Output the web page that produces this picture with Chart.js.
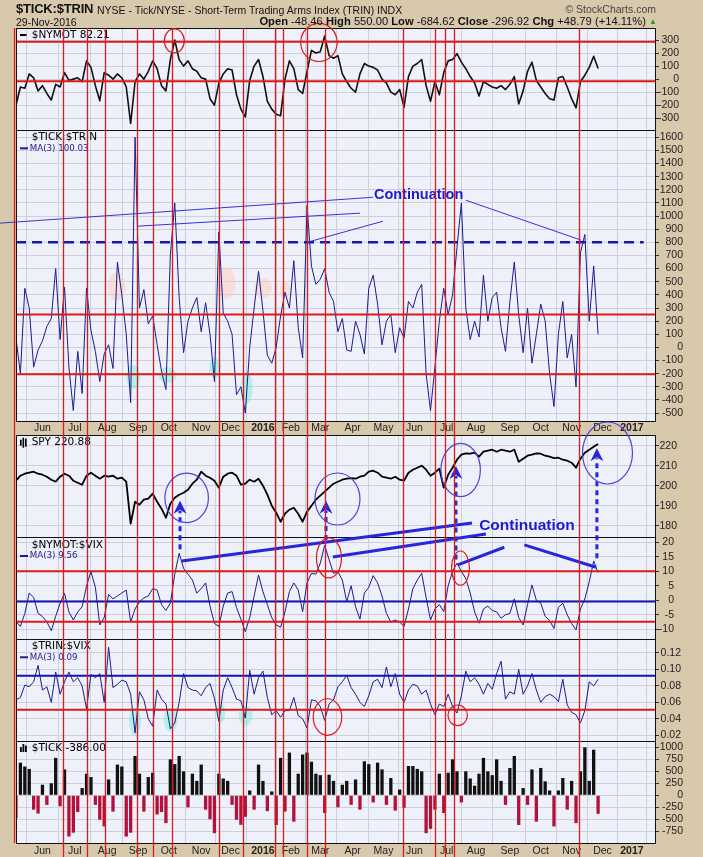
<!DOCTYPE html>
<html>
<head>
<meta charset="utf-8">
<title>$TICK:$TRIN</title>
<script src="https://cdn.jsdelivr.net/npm/chart.js@4.4.1/dist/chart.umd.min.js"></script>
<style>
  html, body { margin: 0; padding: 0; background: #d8c9ad; }
  #wrap { position: relative; width: 703px; height: 857px; overflow: hidden; }
  canvas { position: absolute; left: 0; top: 0; }
  .hd { position: absolute; font-family: 'Liberation Sans', Arial, sans-serif; color: #111;
        white-space: nowrap; line-height: 1; }
  .hd b { font-weight: bold; }
</style>
</head>
<body>
<div id="wrap">
  <canvas id="chart" width="703" height="857"></canvas>
  <div class="hd" style="left:16px; top:2px; font-size:13px; font-weight:bold; letter-spacing:-0.2px;">$TICK:$TRIN</div>
  <div class="hd" style="left:97px; top:5px; font-size:10.5px;">NYSE - Tick/NYSE - Short-Term Trading Arms Index (TRIN) INDX</div>
  <div class="hd" style="right:47px; top:4px; font-size:10.5px; color:#444;">&copy; StockCharts.com</div>
  <div class="hd" style="left:16px; top:17px; font-size:10.5px;">29-Nov-2016</div>
  <div class="hd" style="right:57px; top:16px; font-size:11.2px;"><b>Open</b> -48.46 <b>High</b> 550.00 <b>Low</b> -684.62 <b>Close</b> -296.92 <b>Chg</b> +48.79 (+14.11%)</div>
  <div class="hd" style="left:649px; top:18px; font-size:8px; color:#2e9a2e;">&#9650;</div>
</div>

<script>
/*
    $TICK:$TRIN panel set, StockCharts style.
    Six panels share one x axis (trading days, 0 = 1 Jun 2015),
    stacked as right-hand y scales.
*/

// ---- data: one sample every 3 trading days, first one 18 days before 1 Jun 2015 ----

const startDay = -18;
const stepDays = 3;

const monthTicks  = [0, 22, 44, 65, 86, 108, 128, 150, 169, 189, 211, 232, 253, 275, 295, 318, 339, 360, 381, 401];
const monthLabels = ['Jun', 'Jul', 'Aug', 'Sep', 'Oct', 'Nov', 'Dec', '2016', 'Feb', 'Mar', 'Apr', 'May',
                     'Jun', 'Jul', 'Aug', 'Sep', 'Oct', 'Nov', 'Dec', '2017'];

// $NYMOT
const nymot = [
  -200, -60, -70, 40, 10, -90, -50, -110, -160, -40,
  -60, 50, -10, 0, 10, -20, 140, 90, -50, -165,
  50, 30, 0, 40, 10, -60, -340, -20, 40, 0,
  60, 140, 80, -50, -90, 150, 300, 150, 100, 140,
  80, 60, 10, 0, -150, -200, -30, 40, 80, 70,
  -120, -230, -290, -10, 100, 150, 20, -170, -230, -270,
  -280, 0, 140, 80, -80, -110, 60, 220, 200, 210,
  330, 180, 160, 180, 40, -20, -70, -100, 40, 120,
  100, 90, 70, 0, -30, -100, -120, -80, -215, 20,
  100, 120, 150, -50, -170, -20, -120, 50, 140, 150,
  195, 130, 80, 20, -30, -130, -20, -40, -60, -70,
  -50, -80, -40, 20, -190, -90, 60, 130, -10, -60,
  -110, -150, -160, 10, 20, -60, -150, -220, -20, 30,
  90, 175, 82.21];

// $TICK:$TRIN MA(3)
const tickTrin = [
  70, -200, 450, 300, -150, -20, 50, 160, 220, 600,
  60, 460, -150, -480, -30, -350, 450, 130, -30, -260,
  -50, 20, -160, 650, 400, 100, -420, 1600, 300, 440,
  180, 240, 20, -180, -320, 700, 1100, 380, -40, 200,
  300, 380, 120, 340, 100, -260, 880, 260, 200, 100,
  -360, -300, -500, 0, 300, 580, 280, -60, -120, 0,
  240, 420, 300, 660, 150, -80, 1080, 620, 480, 520,
  600, 420, 350, 120, 220, -20, -30, 200, 100, -50,
  450, 550, 330, 20, 200, 250, -40, 150, 70, 350,
  300, 420, 480, -200, -480, -150, 200, 450, 250, 400,
  760, 1100, 300, 60, 200, 80, 550, 200, 380, 420,
  150, -30, 350, 650, 250, -40, 300, -120, 100, 330,
  200, -200, -450, 100, 350, -80, 100, -300, 720, 860,
  200, 620, 100.03];

// SPY
const spy = [
  202.5, 205, 206, 206.5, 207, 206, 205.5, 204.5, 203, 202,
  204.5, 206, 205, 202.5, 201.5, 200.5, 205, 206.5, 205, 203.5,
  205, 204.5, 205, 203.5, 204, 202, 181, 192, 190.5, 193,
  193.5, 196, 192, 188.5, 184, 191, 194, 195.5, 196.5, 198,
  201, 203, 207, 205, 204, 202.5, 199, 204.5, 206, 206.5,
  205, 200.5, 201, 203, 202, 203.5, 200, 195.5, 190, 186.5,
  182, 186, 188, 189, 186, 182, 187, 190, 193, 195,
  197, 199, 201, 202, 203, 203.5, 203.8, 203.5, 204.5, 205,
  207, 207.5, 206.5, 204.5, 204, 203.5, 204.5, 203, 202.5, 206.5,
  208, 209, 210, 208, 205, 206.5, 208.5, 199, 205.5, 209,
  213, 215.5, 216.2, 216, 216.5, 214.5, 217, 217.5, 218, 217,
  218, 217.5, 217, 218, 212, 213.5, 215, 215.5, 216.2, 216,
  215, 214.5, 213.8, 214, 213, 212.5, 211.5, 209, 213.5, 216.5,
  218, 219.5, 220.88];

// $NYMOT:$VIX MA(3)
const nymotVix = [
  -7.4, -9, -4.5, 2.5, 1, -4.5, -5.6, -7.4, -10.5, -5.5,
  -1, 2.4, -4, -6.8, -4, -2.2, 5, 9.9, 4.5, -8.5,
  -6, 2, 0.5, 1.5, 2.5, 3.5, -7.5, -3, -0.5, 0.8,
  1.5, 4, 3.5, -1.5, -3.5, -1, 9, 16.2, 11, 9,
  7, 2.5, 4, 6, -2, -8, -9, -2, 2.5, 3,
  -2.5, -6.5, -10.8, -6, 1.5, 8.7, 3, -1.5, -6, -8.5,
  -9.3, -4, 3, 6, 3.5, -3.9, 6, 9.3, 9, 12.8,
  19, 14, 9.3, 9.8, 7, -0.5, 5, -2.2, -6.5, 2.5,
  4.5, 8.5, 6, 1.5, -4.5, -7.5, -6.8, -7.5, -9, -3,
  4, 7, 9.3, 1, -6.8, -3, -1.5, -3.9, 5, 10,
  12.8, 10, 7.5, 2.5, -4, -7.9, -3, -2, -3.5, -4,
  -6.2, -5, -4.5, 0.5, -6, -8.5, -1.5, 5.3, 0, -1,
  -5.5, -7, -9.7, -2.5, -1, -5, -8, -10.2, -3, 0.5,
  6.4, 13.5, 9.56];

// $TRIN:$VIX MA(3)
const trinVix = [
  0.063, 0.066, 0.081, 0.079, 0.085, 0.105, 0.075, 0.079, 0.060, 0.097,
  0.070, 0.085, 0.097, 0.085, 0.090, 0.080, 0.052, 0.094, 0.090, 0.095,
  0.060, 0.127, 0.078, 0.082, 0.087, 0.085, 0.070, 0.023, 0.073, 0.063,
  0.040, 0.031, 0.075, 0.064, 0.058, 0.028, 0.035, 0.060, 0.095, 0.078,
  0.075, 0.074, 0.068, 0.078, 0.083, 0.065, 0.037, 0.075, 0.090, 0.078,
  0.064, 0.062, 0.041, 0.099, 0.070, 0.090, 0.098, 0.066, 0.045, 0.050,
  0.042, 0.050, 0.050, 0.066, 0.044, 0.040, 0.029, 0.063, 0.062, 0.055,
  0.038, 0.058, 0.063, 0.079, 0.085, 0.093, 0.078, 0.070, 0.060, 0.055,
  0.068, 0.085, 0.088, 0.078, 0.103, 0.079, 0.095, 0.070, 0.060, 0.075,
  0.082, 0.080, 0.070, 0.075, 0.058, 0.045, 0.058, 0.055, 0.070, 0.055,
  0.047, 0.068, 0.098, 0.085, 0.090, 0.082, 0.070, 0.083, 0.076, 0.095,
  0.110, 0.064, 0.073, 0.070, 0.100, 0.070, 0.080, 0.095, 0.075, 0.060,
  0.067, 0.070, 0.067, 0.061, 0.088, 0.057, 0.048, 0.045, 0.035, 0.050,
  0.085, 0.080, 0.088];

// $TICK
const tick = [
  -480, 680, 600, 550, -300, -380, 220, -200, 250, 780,
  -230, 540, -860, -780, -350, 150, 450, 380, -200, -510,
  -650, 330, -340, 640, 600, -860, -780, 820, 450, -340,
  380, 470, -400, -350, -580, 750, 650, 820, 500, -250,
  450, 300, 640, -300, -500, -790, 450, 350, 300, -200,
  -510, -616, -450, 100, -300, 640, 300, -330, 80, -620,
  780, -340, 890, -550, 450, 850, 890, 700, 450, 420,
  -370, 430, 300, -250, 220, 300, -200, 330, -300, 710,
  650, -150, 680, 540, -200, 360, -320, 120, -260, 610,
  610, 550, 500, -790, -700, -300, 450, -370, 470, 750,
  500, -150, 500, 350, 200, 450, 780, 500, 420, 750,
  300, -200, 570, 820, -620, 150, -200, 540, -550, 570,
  290, 100, -650, 100, 360, -300, 300, -580, 500, 1000,
  300, 950, -386];

// red vertical marker lines (trading day)
const markerDays = [-19.7, 13.8, 30.1, 42.7, 64.3, 75.4, 87.9, 120.1, 136.6,
                    158.4, 163.4, 180, 192.4, 245.5, 267.2, 274, 280.2, 364.8];


// ---- look ----

const FONT = "'Liberation Sans', Arial, sans-serif";
const LFONT = "'DejaVu Sans', sans-serif";
const TAN = '#d8c9ad';
const PLOT = '#eef0fa';
const GRID = '#cdd0dc';
const RED = '#dd1a1a';
const NAVY = '#1c1c8c';
const BLUE = '#2626dc';

const panelIds = ['nymot', 'tt', 'spy', 'nv', 'tv', 'tk'];

// right edge of each panel's (right aligned) value labels
const labelRight = { nymot: 679, tt: 683, spy: 677, nv: 674, tv: 681, tk: 683 };

function pts(arr) {
    return arr.map((v, i) => ({x: startDay + i * stepDays, y: v}));
}

function fitY(scale) {
    scale.width = 47;
    scale.paddingTop = 0;
    scale.paddingBottom = 0;
}

function panelScale(weight, min, max, step, fmt) {
    return {
        type: 'linear', position: 'right', stack: 'panels', stackWeight: weight,
        min: min, max: max, offset: false,
        grid: { color: GRID, drawTicks: true, tickLength: 3, tickColor: '#333',},
        border: { display: false,},
        ticks: {
            stepSize: step, includeBounds: false, autoSkip: false,
            crossAlign: 'far', padding: 2, color: '#222',
            font: { family: FONT, size: 10.5,},
            callback: fmt || (v => String(Math.round(v))),},
        afterFit: fitY,
    };
}


// ---- drawing helpers ----

function ring(ctx, cx, cy, rx, ry, color, fill) {
    ctx.beginPath();
    ctx.ellipse(cx, cy, rx, ry, 0, 0, Math.PI * 2);
    if (fill) { ctx.fillStyle = fill; ctx.fill(); }
    else { ctx.strokeStyle = color; ctx.lineWidth = 1.2; ctx.stroke(); }
}

function segment(ctx, x0, y0, x1, y1, color, width, dash) {
    ctx.save();
    ctx.strokeStyle = color;
    ctx.lineWidth = width;
    ctx.setLineDash(dash || []);
    ctx.beginPath();
    ctx.moveTo(x0, y0);
    ctx.lineTo(x1, y1);
    ctx.stroke();
    ctx.restore();
}

function upArrow(ctx, x, yFrom, yTip) {
    const head = 13;
    segment(ctx, x, yFrom, x, yTip + head - 3, BLUE, 3, [5, 4]);
    ctx.fillStyle = BLUE;
    ctx.beginPath();
    ctx.moveTo(x, yTip);
    ctx.lineTo(x - 6.5, yTip + head);
    ctx.lineTo(x, yTip + head - 4);
    ctx.lineTo(x + 6.5, yTip + head);
    ctx.closePath();
    ctx.fill();
}


// ---- annotations, in trading days and axis values ----

// [axis, value, colour, width, dash, lastDay]
const levels = [
    ['nymot', 287, RED, 2], ['nymot', -16, RED, 2],
    ['tt', 250, RED, 2], ['tt', -205, RED, 2], ['tt', 800, '#1a1aa8', 2.5, [10, 6], 409],
    ['nv', 10, RED, 2], ['nv', -0.4, '#1414b4', 2], ['nv', -7.4, RED, 2],
    ['tv', 0.0925, '#1414b4', 2], ['tv', 0.051, RED, 2],
];

// thin guide lines on $TICK:$TRIN [day0, v0, day1, v1]
const ttGuides = [[-28.9, 946, 224.9, 1143], [65, 923, 216, 1022],
                  [180.6, 802, 231.7, 961], [288.1, 1120, 366.4, 817]];

// thick guide lines low down [day0, axis0, v0, day1, axis1, v1]
const vixGuides = [[94.9, 'nv', 13.55, 292.2, 'spy', 181.35], [197.6, 'nv', 14.9, 301.7, 'spy', 175.85],
                   [282.5, 'nv', 12.2, 314.2, 'nv', 18.3], [327.8, 'nv', 19.1, 376.6, 'nv', 11.4]];

// dashed arrows [day, fromAxis, fromV, tipAxis, tipV]
const arrows = [[93.6, 'nv', 17.6, 'spy', 192.5], [192.9, 'nv', 20.8, 'spy', 192.5],
                [281.3, 'nv', 14.1, 'spy', 209.85], [377.2, 'nv', 14.5, 'spy', 218.7]];

// rings [axis, day, v, rDays, rV, colour]
const rings = [
    ['nymot', 89.7, 294, 6.8, 92, RED], ['nymot', 188.1, 281, 12.4, 146, RED],
    ['spy', 98.1, 193.9, 14.8, 12.35, '#4646d8'], ['spy', 200.7, 193.35, 15.3, 13, '#4646d8'],
    ['spy', 284.5, 207.85, 13.4, 13.35, '#4646d8'], ['spy', 384.4, 216.35, 17, 15.5, '#4646d8'],
    ['nv', 194.9, 14.6, 8.5, 6.9, RED], ['nv', 284.4, 11.1, 6.1, 5.9, RED],
    ['tv', 193.9, 0.0422, 9.7, 0.0222, RED], ['tv', 282.5, 0.0443, 6.6, 0.0125, RED],
];

// soft highlight spots [axis, day, v, rDays, rV, fill]
const CYAN = 'rgba(110, 235, 215, 0.45)';
const PINK = 'rgba(255, 200, 180, 0.45)';
const spots = [
    ['tt', 61.8, -224, 4.8, 91, CYAN], ['tt', 85.2, -212, 6.1, 61, CYAN],
    ['tt', 117.4, -156, 4.1, 76, CYAN], ['tt', 138.9, -307, 4.1, 121, CYAN],
    ['tt', 50.5, 463, 6.1, 106, PINK], ['tt', 125.3, 489, 6.1, 121, PINK],
    ['tt', 150.2, 451, 6.1, 76, PINK], ['tt', 165, 438, 3.4, 61, PINK],
    ['tv', 63, 0.037, 4.1, 0.017, CYAN], ['tv', 87.2, 0.039, 4.8, 0.0146, CYAN],
    ['tv', 121.5, 0.047, 2.7, 0.012, CYAN], ['tv', 138.3, 0.044, 4.8, 0.012, CYAN],
];

// [axis, day, v, size]
const notes = [['tt', 255.9, 1158, 14.5], ['spy', 329.6, 179.85, 15.5]];

// panel legends [axis, offset from panel top, text, colour, icon]
const legends = [
    ['nymot', 7, '$NYMOT 82.21', '#000', 'line'],
    ['tt', 7.7, '$TICK:$TRIN', '#000', null],
    ['tt', 18.3, 'MA(3) 100.03', NAVY, 'ma'],
    ['spy', 7.7, 'SPY 220.88', '#000', 'candle'],
    ['nv', 8, '$NYMOT:$VIX', '#000', null],
    ['nv', 19, 'MA(3) 9.56', NAVY, 'ma'],
    ['tv', 7.3, '$TRIN:$VIX', '#000', null],
    ['tv', 18.3, 'MA(3) 0.09', NAVY, 'ma'],
    ['tk', 7, '$TICK -386.00', '#000', 'bars'],
];


const panelPlugin = {
    id: 'panels',

    afterLayout(chart) {
        // 'far' labels end at the scale's right edge; pull it in per panel
        Object.keys(labelRight).forEach(id => { chart.scales[id].right = labelRight[id]; });
    },

    beforeDraw(chart) {
        const ctx = chart.ctx, a = chart.chartArea;
        ctx.save();
        ctx.fillStyle = TAN;
        ctx.fillRect(0, 0, chart.width, chart.height);
        ctx.fillStyle = PLOT;
        panelIds.forEach(id => {
            const s = chart.scales[id];
            ctx.fillRect(a.left, s.top, a.right - a.left, s.bottom - s.top);
        });
        ctx.restore();
    },

    beforeDatasetsDraw(chart) {
        const ctx = chart.ctx, a = chart.chartArea;
        const g = chart.scales.gap, x = chart.scales.x;
        const X = d => x.getPixelForValue(d);
        const Y = (id, v) => chart.scales[id].getPixelForValue(v);

        ctx.save();
        // month row between the two upper panels
        ctx.fillStyle = TAN;
        ctx.fillRect(a.left, g.top, a.right - a.left, g.bottom - g.top);
        ctx.fillStyle = '#222';
        ctx.textAlign = 'center';
        ctx.textBaseline = 'middle';
        monthTicks.forEach((d, i) => {
            const bold = /^\d{4}$/.test(monthLabels[i]);
            ctx.font = (bold ? 'bold ' : '') + '10.5px ' + FONT;
            ctx.fillText(monthLabels[i], X(d), (g.top + g.bottom) / 2 + 0.5);
        });

        spots.forEach(([id, d, v, rd, rv, fill]) => {
            ring(ctx, X(d), Y(id, v), Math.abs(X(d + rd) - X(d)),
                 Math.abs(Y(id, v + rv) - Y(id, v)), null, fill);
        });
        ctx.restore();
    },

    afterDatasetsDraw(chart) {
        const ctx = chart.ctx, a = chart.chartArea, x = chart.scales.x;
        const X = d => x.getPixelForValue(d);
        const Y = (id, v) => chart.scales[id].getPixelForValue(v);

        ctx.save();

        levels.forEach(([id, v, color, width, dash, lastDay]) => {
            const y = Y(id, v);
            segment(ctx, a.left, y, lastDay ? X(lastDay) : a.right, y, color, width, dash);
        });

        // legends
        legends.forEach(([id, off, text, color, icon]) => {
            const y = chart.scales[id].top + off;
            ctx.fillStyle = color;
            ctx.strokeStyle = color;
            if (icon === 'line') {
                segment(ctx, 20, y, 26.5, y, color, 2);
            } else if (icon === 'ma') {
                segment(ctx, 20, y, 28, y, color, 2);
            } else if (icon === 'candle') {
                [[20, 3], [22.5, 5], [25, 4]].forEach(([bx, h]) => ctx.fillRect(bx, y - h, 1.6, h * 2));
            } else if (icon === 'bars') {
                [[20, 3], [22.5, 5], [25, 4]].forEach(([bx, h]) => ctx.fillRect(bx, y + 4 - h * 1.6, 1.8, h * 1.6));
            }
            ctx.font = (icon === 'ma' ? '8.7px ' : '10.5px ') + LFONT;
            ctx.textAlign = 'left';
            ctx.textBaseline = 'middle';
            ctx.fillText(text, icon === 'ma' ? 29.7 : 31.7, y);
        });

        // panel frames
        ctx.strokeStyle = '#111';
        ctx.lineWidth = 1;
        panelIds.forEach(id => {
            const s = chart.scales[id];
            ctx.strokeRect(Math.round(a.left) + 0.5, Math.round(s.top) + 0.5,
                           Math.round(a.right - a.left) - 1, Math.round(s.bottom - s.top));
        });

        // annotations
        ttGuides.forEach(([d0, v0, d1, v1]) =>
            segment(ctx, X(d0), Y('tt', v0), X(d1), Y('tt', v1), '#3434d2', 1));
        vixGuides.forEach(([d0, id0, v0, d1, id1, v1]) =>
            segment(ctx, X(d0), Y(id0, v0), X(d1), Y(id1, v1), BLUE, 3));
        arrows.forEach(([d, id0, v0, id1, v1]) => upArrow(ctx, X(d), Y(id0, v0), Y(id1, v1)));
        rings.forEach(([id, d, v, rd, rv, color]) =>
            ring(ctx, X(d), Y(id, v), Math.abs(X(d + rd) - X(d)), Math.abs(Y(id, v + rv) - Y(id, v)), color));

        ctx.fillStyle = '#1c1ccc';
        ctx.textAlign = 'center';
        ctx.textBaseline = 'middle';
        notes.forEach(([id, d, v, size]) => {
            ctx.font = 'bold ' + size + 'px ' + FONT;
            ctx.fillText('Continuation', X(d), Y(id, v));
        });

        // red markers run through every panel
        markerDays.forEach(d => {
            const px = Math.round(X(d)) + 0.5;
            segment(ctx, px, a.top, px, d < startDay ? a.bottom : chart.height, RED, 1.3);
        });

        ctx.restore();
    },
};


var ctx = document.getElementById('chart').getContext('2d');

var panels_chart = new Chart(ctx, {
    type: 'line',

    data: {
        datasets: [
            { label: '$NYMOT', data: pts(nymot), yAxisID: 'nymot', borderColor: '#111', borderWidth: 1.6,},
            { label: '$TICK:$TRIN MA(3)', data: pts(tickTrin), yAxisID: 'tt', borderColor: NAVY, borderWidth: 1,},
            { label: 'SPY', data: pts(spy), yAxisID: 'spy', borderColor: '#000', borderWidth: 1.8,},
            { label: '$NYMOT:$VIX MA(3)', data: pts(nymotVix), yAxisID: 'nv', borderColor: NAVY, borderWidth: 1,},
            { label: '$TRIN:$VIX MA(3)', data: pts(trinVix), yAxisID: 'tv', borderColor: NAVY, borderWidth: 1,},
            { type: 'bar', label: '$TICK', data: pts(tick), yAxisID: 'tk',
              backgroundColor: c => (c.raw && c.raw.y < 0) ? '#b3103a' : '#111',
              borderWidth: 0, barPercentage: 0.75, categoryPercentage: 1,},
        ],
    },

    options: {
        responsive: false,
        animation: false,
        devicePixelRatio: 1,
        layout: { padding: { top: 28, left: 16, right: 0, bottom: 0,},},

        elements: {
            point: { radius: 0,},
            line: { tension: 0, borderJoinStyle: 'round',},},

        plugins: {
            legend: { display: false,},
            tooltip: { enabled: false,},},

        scales: {
            x: {
                type: 'linear', position: 'bottom', min: -18, max: 417.4, offset: false,
                grid: { color: GRID, drawTicks: false,},
                border: { display: false,},
                ticks: {
                    autoSkip: false, maxRotation: 0, padding: 2, color: '#222',
                    font: c => ({ family: FONT, size: 10.5,
                                  weight: (c.tick && /^\d{4}$/.test(c.tick.label)) ? 'bold' : 'normal',}),
                    callback: (v, i) => monthLabels[i],},
                afterBuildTicks: s => { s.ticks = monthTicks.map(v => ({ value: v })); },
                afterFit: s => { s.height = 14; s.paddingLeft = 0; s.paddingRight = 0; },
            },
            nymot: panelScale(102, -390, 392, 100),
            tt: panelScale(291, -560, 1655, 100),
            gap: {
                type: 'linear', position: 'right', stack: 'panels', stackWeight: 14,
                min: 0, max: 1,
                grid: { display: false,}, border: { display: false,}, ticks: { display: false,},
                afterFit: fitY,
            },
            spy: panelScale(102, 174.35, 225.35, 10),
            nv: panelScale(102, -13.35, 21.83, 5),
            tv: panelScale(102, 0.0131, 0.137, 0.02, v => v.toFixed(2)),
            tk: panelScale(102, -995, 1132, 250),
        },
    },

    plugins: [panelPlugin],
});
</script>
</body>
</html>
